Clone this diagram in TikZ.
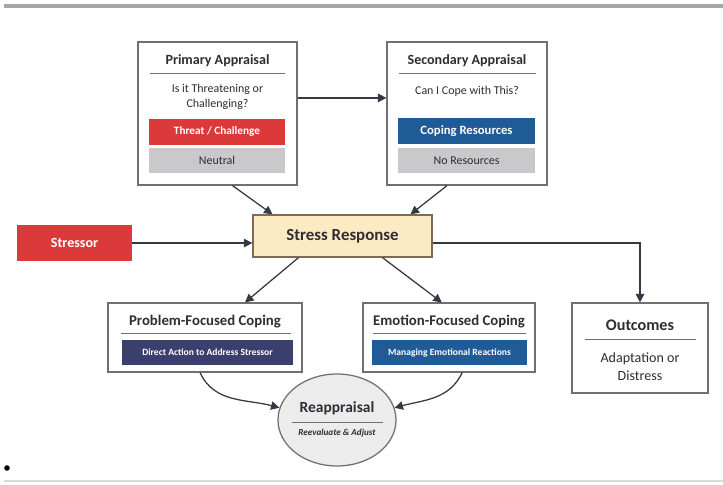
\documentclass[tikz,border=0pt]{standalone}
\usepackage{fontspec}
\setmainfont{Carlito}
\usetikzlibrary{arrows.meta, shapes.geometric}

\definecolor{threatred}{HTML}{DC3A3A}
\definecolor{neutralgray}{HTML}{C9C9CB}
\definecolor{copeblue}{HTML}{1F5B96}
\definecolor{actionnavy}{HTML}{3A3F6E}
\definecolor{stressfill}{HTML}{FCEAC3}
\definecolor{stressedge}{HTML}{7D6B55}
\definecolor{paneledge}{HTML}{707070}
\definecolor{arrowgray}{HTML}{333A44}
\definecolor{inkgray}{HTML}{2E2E33}

\begin{document}
\begin{tikzpicture}[
    x=0.025cm, y=-0.025cm,
    panel/.style={draw=paneledge, line width=0.8pt, fill=white, inner sep=0pt},
    bar/.style={inner sep=0pt, minimum height=0.625cm, text=white, font=\fontsize{8}{9}\selectfont\bfseries},
    graybar/.style={bar, fill=neutralgray, text=inkgray, font=\fontsize{8.5}{10}\selectfont},
    head/.style={font=\fontsize{10}{12}\selectfont\bfseries, text=inkgray},
    body/.style={font=\fontsize{8.5}{10.5}\selectfont, text=inkgray, align=center},
    sep/.style={draw=paneledge, line width=0.6pt},
    arr/.style={-{Triangle[length=6pt,width=6pt]}, draw=arrowgray, line width=0.9pt},
    rule/.style={draw=gray!70, line width=2.2pt}
  ]
  \useasboundingbox (0,0) rectangle (723,485);
  \draw[rule] (4,6) -- (723,6);
  \draw[rule, gray!30, line width=1.2pt] (4,481) -- (723,481);
  \fill[black] (7,468) circle (0.07cm);

  % Appraisal panels
  \node[panel, minimum width=3.975cm, minimum height=3.575cm] (prim) at (217.5,113.5) {};
  \node[head] (primtitle) at (217.5,61) {Primary Appraisal};
  \draw[sep] (150,73) -- (285,73);
  \node[body] (primq) at (217.5,97) {Is it Threatening or\\Challenging?};
  \node[bar, fill=threatred, minimum width=3.4cm] (threat) at (217,132) {Threat / Challenge};
  \node[graybar, minimum width=3.4cm] (neutral) at (217,160.5) {Neutral};

  \node[panel, minimum width=4cm, minimum height=3.575cm] (sec) at (467,113.5) {};
  \node[head] (sectitle) at (467,61) {Secondary Appraisal};
  \draw[sep] (399,73) -- (536,73);
  \node[body] (secq) at (467,91) {Can I Cope with This?};
  \node[bar, fill=copeblue, minimum width=3.425cm, font=\fontsize{9}{10}\selectfont\bfseries] (cope) at (466.5,131) {Coping Resources};
  \node[graybar, minimum width=3.425cm] (nores) at (466.5,160.5) {No Resources};

  % Centre row
  \node[draw=stressedge, line width=0.9pt, fill=stressfill, minimum width=4.475cm, minimum height=1.05cm,
        font=\fontsize{12}{14}\selectfont\bfseries, text=inkgray] (stress) at (342.5,236) {Stress Response};
  \node[fill=threatred, text=white, minimum width=2.875cm, minimum height=0.875cm,
        font=\fontsize{10}{12}\selectfont\bfseries] (stressor) at (74.5,243) {Stressor};

  % Coping panels
  \node[panel, minimum width=4.85cm, minimum height=1.725cm] (prob) at (205,337.5) {};
  \node[head, font=\fontsize{10.5}{12}\selectfont\bfseries] (probtitle) at (205,322) {Problem-Focused Coping};
  \draw[sep] (121,333) -- (291,333);
  \node[bar, fill=actionnavy, minimum width=4.275cm, font=\fontsize{6.8}{8}\selectfont\bfseries] (action) at (207.5,352.5) {Direct Action to Address Stressor};

  \node[panel, minimum width=4.3cm, minimum height=1.725cm] (emo) at (449,337.5) {};
  \node[head, font=\fontsize{10.5}{12}\selectfont\bfseries] (emotitle) at (449,322) {Emotion-Focused Coping};
  \draw[sep] (373,333) -- (526,333);
  \node[bar, fill=copeblue, minimum width=3.875cm, font=\fontsize{6.8}{8}\selectfont\bfseries] (manage) at (449.5,352.5) {Managing Emotional Reactions};

  \node[panel, minimum width=3.4cm, minimum height=2.25cm] (outc) at (640,348) {};
  \node[head, font=\fontsize{11.5}{13}\selectfont\bfseries] (outctitle) at (640,325) {Outcomes};
  \draw[sep] (585,339) -- (696,339);
  \node[body, font=\fontsize{10}{13}\selectfont] (outcbody) at (640,367) {Adaptation or\\Distress};

  \node[ellipse, draw=paneledge, line width=0.9pt, fill=gray!15, minimum width=2.95cm, minimum height=2.3cm] (reap) at (337,420) {};
  \node[head, font=\fontsize{11}{13}\selectfont\bfseries] (reaptitle) at (337,408) {Reappraisal};
  \draw[sep] (292,422) -- (383,422);
  \node[text=inkgray, font=\fontsize{6.5}{8}\selectfont\bfseries\itshape] (reapsub) at (337,433) {Reevaluate \& Adjust};

  % Connectors
  \draw[arr] ([yshift=0.39cm]prim.east) -- ([yshift=0.39cm]sec.west);
  \draw[arr] ([xshift=0.375cm]prim.south) -- ([xshift=-1.75cm]stress.north);
  \draw[arr] ([xshift=-0.5cm]sec.south) -- ([xshift=1.7cm]stress.north);
  \draw[arr] (stressor.east) -- (stressor -| stress.west);
  \draw[arr] (stressor -| stress.east) -| (outc.north);
  \draw[arr] ([xshift=-1.1cm]stress.south) -- ([xshift=1cm]prob.north);
  \draw[arr] ([xshift=1cm]stress.south) -- ([xshift=-0.18cm]emo.north);
  \draw[arr] ([xshift=-0.125cm]prob.south) to[out=-65, in=165] (reap.168);
  \draw[arr] ([xshift=0.33cm]emo.south) to[out=-115, in=15] (reap.12);
\end{tikzpicture}
\end{document}
